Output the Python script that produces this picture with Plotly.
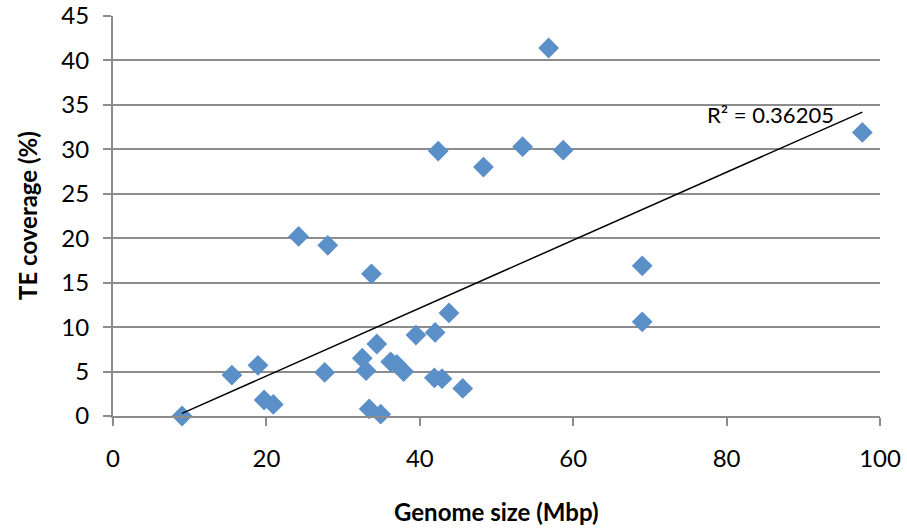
import numpy as np
import plotly.graph_objects as go

genome_size = [9.0, 15.5, 18.9, 19.7, 20.9, 24.2, 28.0, 27.6, 33.7, 32.5, 33.0, 33.4, 34.9,
               34.4, 36.2, 37.0, 37.9, 39.5, 42.0, 41.9, 42.9, 43.8, 45.6, 42.4, 48.3,
               53.4, 56.8, 58.7, 69.0, 69.0, 97.7]
te_coverage = [0.0, 4.6, 5.7, 1.8, 1.3, 20.2, 19.2, 4.9, 16.0, 6.5, 5.1, 0.8, 0.2,
               8.1, 6.1, 5.8, 5.0, 9.1, 9.4, 4.3, 4.2, 11.6, 3.1, 29.8, 28.0,
               30.3, 41.4, 29.9, 16.9, 10.6, 31.9]
x_ticks = [0, 20, 40, 60, 80, 100]
y_ticks = [0, 5, 10, 15, 20, 25, 30, 35, 40, 45]
r2_label = "R² = 0.36205"
x_title = "Genome size (Mbp)"
y_title = "TE coverage (%)"

x = np.array(genome_size)
y = np.array(te_coverage)
slope, intercept = np.polyfit(x, y, 1)
tx = np.array([x.min(), x.max()])
ty = slope * tx + intercept

font_family = "Lato, 'Liberation Sans', sans-serif"
grid_col = "#8c8c8c"

fig = go.Figure()
fig.add_trace(go.Scatter(
    x=genome_size, y=te_coverage, mode="markers",
    marker=dict(symbol="diamond", size=16, color="#5b8fc8", line=dict(width=0)),
    showlegend=False, cliponaxis=False,
))
fig.add_trace(go.Scatter(
    x=tx, y=ty, mode="lines", line=dict(color="black", width=1.5),
    showlegend=False, hoverinfo="skip",
))
fig.add_annotation(x=tx[1], y=ty[1], text=r2_label, showarrow=False,
                   xanchor="right", yanchor="middle", xshift=-26, yshift=-2,
                   font=dict(family=font_family, size=22, color="black"))
fig.add_annotation(x=0.5, y=0, xref="paper", yref="paper", text="<b>" + x_title + "</b>",
                   showarrow=False, xanchor="center", yanchor="middle", yshift=-95,
                   font=dict(family=font_family, size=24, color="black"))
fig.add_annotation(x=0, y=0.5, xref="paper", yref="paper", text="<b>" + y_title + "</b>",
                   showarrow=False, xanchor="center", yanchor="middle", xshift=-86,
                   textangle=-90,
                   font=dict(family=font_family, size=24, color="black"))

fig.update_layout(
    width=907, height=530,
    margin=dict(l=113, r=27, t=16, b=114),
    paper_bgcolor="white", plot_bgcolor="white",
    font=dict(family=font_family, size=24, color="black"),
)
fig.update_xaxes(
    range=[0, 100], tickvals=x_ticks, automargin=False,
    showgrid=False, zeroline=False,
    showline=True, linecolor=grid_col, linewidth=2,
    ticks="outside", ticklen=8, tickcolor=grid_col, tickwidth=2,
    tickfont=dict(size=24), ticklabelstandoff=12,
)
fig.update_yaxes(
    range=[0, 45], tickvals=y_ticks, automargin=False,
    showgrid=True, gridcolor=grid_col, gridwidth=2, zeroline=False,
    showline=True, linecolor=grid_col, linewidth=2,
    ticks="outside", ticklen=8, tickcolor=grid_col, tickwidth=2,
    tickfont=dict(size=24), ticklabelstandoff=9,
)
fig.write_html("out.html")
